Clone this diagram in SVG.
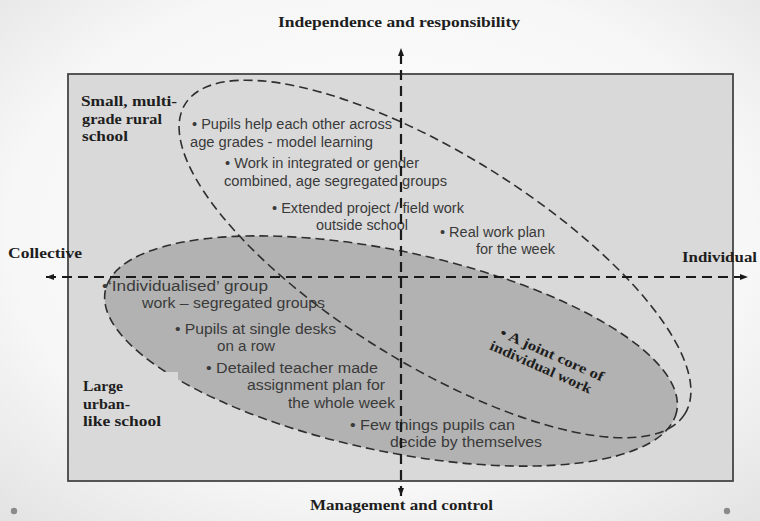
<svg xmlns="http://www.w3.org/2000/svg" width="760" height="521" viewBox="0 0 760 521">
  <defs>
    <radialGradient id="page" cx="50%" cy="45%" r="75%">
      <stop offset="0" stop-color="#fefefe"/>
      <stop offset="0.65" stop-color="#f7f7f7"/>
      <stop offset="1" stop-color="#e2e2e2"/>
    </radialGradient>
    <marker id="arrow" viewBox="0 0 8 6" refX="8" refY="3" markerWidth="8" markerHeight="6" markerUnits="userSpaceOnUse" orient="auto-start-reverse">
      <path d="M0,0 L8,3 L0,6 z" fill="#1a1a1a"/>
    </marker>
    <style>
      .label { font-family: "Liberation Serif", "Times New Roman", serif; font-weight: bold; font-size: 14px; fill: #1e1e1e; }
      .item { font-family: "Liberation Sans", Arial, sans-serif; font-size: 14px; fill: #3a3a3a; }
      .zone { stroke: #2e2e2e; stroke-width: 1.6; stroke-dasharray: 9 5; }
      .axis { stroke: #1a1a1a; stroke-width: 2.2; stroke-dasharray: 10 6; fill: none; }
    </style>
  </defs>

  <!-- page -->
  <rect x="0" y="0" width="760" height="521" fill="url(#page)"/>
  <circle cx="14" cy="511" r="3.2" fill="#8a8a8a"/>
  <circle cx="727" cy="511" r="3.2" fill="#8a8a8a"/>

  <!-- panel -->
  <rect id="panel" x="68" y="74" width="665" height="407" fill="#d9d9d9"/>

  <!-- large urban-like school: organisation area -->
  <g id="urban-zone">
    <ellipse cx="391" cy="351" rx="292" ry="100" transform="rotate(12 391 351)" fill="#b2b2b2" class="zone"/>
    <rect x="163" y="372" width="15" height="12" fill="#d9d9d9"/>
  </g>

  <!-- small rural school: organisation area -->
  <g id="rural-zone">
    <ellipse cx="435" cy="259" rx="294" ry="105" transform="rotate(31.8 435 259)" fill="none" class="zone"/>
  </g>

  <!-- school type labels -->
  <g id="rural-label">
    <text class="label" x="81" y="106" textLength="96" lengthAdjust="spacingAndGlyphs">Small, multi-</text>
    <text class="label" x="82" y="124" textLength="80" lengthAdjust="spacingAndGlyphs">grade rural</text>
    <text class="label" x="82" y="141" textLength="46" lengthAdjust="spacingAndGlyphs">school</text>
  </g>
  <g id="urban-label">
    <text class="label" x="83" y="391" textLength="40" lengthAdjust="spacingAndGlyphs">Large</text>
    <text class="label" x="83" y="409" textLength="47" lengthAdjust="spacingAndGlyphs">urban-</text>
    <text class="label" x="83" y="426" textLength="78" lengthAdjust="spacingAndGlyphs">like school</text>
  </g>

  <!-- rural items -->
  <g id="rural-items">
    <text class="item" x="192" y="129" textLength="200" lengthAdjust="spacingAndGlyphs">• Pupils help each other across</text>
    <text class="item" x="190" y="147" textLength="183" lengthAdjust="spacingAndGlyphs">age grades - model learning</text>
    <text class="item" x="225" y="168" textLength="194" lengthAdjust="spacingAndGlyphs">• Work in integrated or gender</text>
    <text class="item" x="224" y="186" textLength="223" lengthAdjust="spacingAndGlyphs">combined, age segregated groups</text>
    <text class="item" x="272" y="213" textLength="192" lengthAdjust="spacingAndGlyphs">• Extended project / field work</text>
    <text class="item" x="316" y="230" textLength="92" lengthAdjust="spacingAndGlyphs">outside school</text>
    <text class="item" x="440" y="237" textLength="105" lengthAdjust="spacingAndGlyphs">• Real work plan</text>
    <text class="item" x="476" y="254" textLength="79" lengthAdjust="spacingAndGlyphs">for the week</text>
  </g>

  <!-- urban items -->
  <g id="urban-items">
    <text class="item" x="102" y="291" textLength="166" lengthAdjust="spacingAndGlyphs">•‘Individualised’ group</text>
    <text class="item" x="142" y="308" textLength="183" lengthAdjust="spacingAndGlyphs">work – segregated groups</text>
    <text class="item" x="175" y="334" textLength="161" lengthAdjust="spacingAndGlyphs">• Pupils at single desks</text>
    <text class="item" x="217" y="351" textLength="58" lengthAdjust="spacingAndGlyphs">on a row</text>
    <text class="item" x="206" y="373" textLength="172" lengthAdjust="spacingAndGlyphs">• Detailed teacher made</text>
    <text class="item" x="247" y="390" textLength="138" lengthAdjust="spacingAndGlyphs">assignment plan for</text>
    <text class="item" x="288" y="408" textLength="107" lengthAdjust="spacingAndGlyphs">the whole week</text>
    <text class="item" x="350" y="430" textLength="165" lengthAdjust="spacingAndGlyphs">• Few things pupils can</text>
    <text class="item" x="390" y="447" textLength="152" lengthAdjust="spacingAndGlyphs">decide by themselves</text>
  </g>

  <!-- overlap of both areas -->
  <g id="joint-core" transform="translate(499 336) rotate(24)">
    <text class="label" x="0" y="0" textLength="112" lengthAdjust="spacingAndGlyphs">• A joint core of</text>
    <text class="label" x="-4" y="16" textLength="110" lengthAdjust="spacingAndGlyphs">individual work</text>
  </g>

  <!-- panel border over the labels -->
  <rect x="68" y="74" width="665" height="407" fill="none" stroke="#454545" stroke-width="1.8"/>

  <!-- axis labels -->
  <g id="axis-labels">
    <text class="label" x="278" y="27" textLength="242" lengthAdjust="spacingAndGlyphs">Independence and responsibility</text>
    <text class="label" x="310" y="510" textLength="183" lengthAdjust="spacingAndGlyphs">Management and control</text>
    <text class="label" x="8" y="258" textLength="74" lengthAdjust="spacingAndGlyphs">Collective</text>
    <text class="label" x="682" y="262" textLength="75" lengthAdjust="spacingAndGlyphs">Individual</text>
  </g>

  <!-- axes -->
  <g id="connectors">
    <line class="axis" x1="401" y1="496" x2="401" y2="48" marker-end="url(#arrow)" marker-start="url(#arrow)"/>
    <line class="axis" x1="46" y1="277" x2="748" y2="277" marker-end="url(#arrow)" marker-start="url(#arrow)"/>
  </g>
</svg>
